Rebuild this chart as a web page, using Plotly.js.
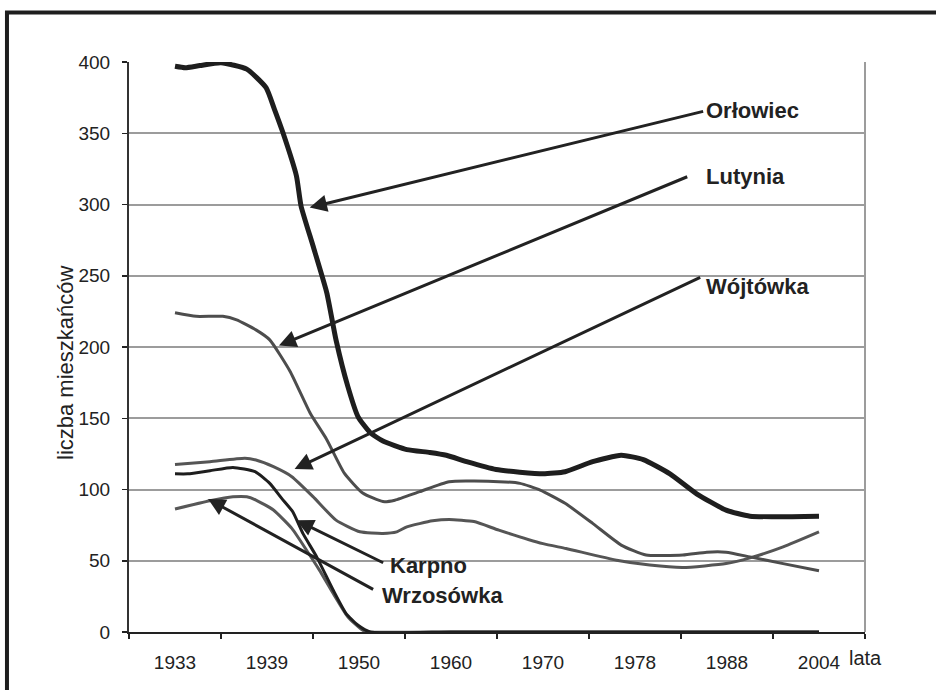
<!DOCTYPE html>
<html><head><meta charset="utf-8">
<script src="https://cdn.plot.ly/plotly-3.0.1.min.js"></script>
<style>html,body{margin:0;padding:0;background:#fff}#chart{width:936px;height:690px}</style>
</head><body><div id="chart"></div>
<script>
// Category (year) labels of the x axis
const yearLabels = ['1933','1939','1950','1960','1970','1978','1988','2004'];

// Positions along the year axis (0 = 1933 ... 7 = 2004) and population values
const orlowiecX = [0,0.11,0.27,0.50,0.78,0.99,1.08,1.17,1.32,1.37,1.50,1.65,1.75,1.88,1.99,2.12,2.26,2.52,2.77,2.95,3.17,3.49,4.00,4.24,4.54,4.85,5.09,5.38,5.67,5.99,6.25,7.00];
const orlowiecY = [397,396,397.5,399.5,395,382,367,351,320,299,271,238,205,172,151,140,134,128,126,124,119.5,114,111,112.5,119.5,124,121,111,97,85.5,81.3,81.3];

const lutyniaX = [0,0.23,0.52,0.67,0.88,1.03,1.25,1.47,1.65,1.84,2.04,2.26,2.39,2.66,2.98,3.52,3.75,3.97,4.24,4.54,4.85,5.12,5.52,5.78,5.99,6.25,6.61,7.00];
const lutyniaY = [224,221.5,221.5,219,212,205,183,153.5,135,111.5,97.5,91.5,92.5,98.5,105.5,105.5,104.3,99.6,90.3,76.2,61,54,54,56,56,52.7,48,43];

const wojtowkaX = [0,0.38,0.76,0.88,1.07,1.27,1.50,1.75,2.01,2.26,2.41,2.52,2.80,2.98,3.25,3.52,4.00,4.25,4.80,5.16,5.52,5.99,6.25,6.61,7.00];
const wojtowkaY = [117.5,119.5,122,120.7,116,109,95,78.5,70.3,69.2,70.3,73.8,78,79,77.5,71.5,62,58.6,50.4,47,45.3,48,52,59.8,70.3];

const karpnoX = [0,0.14,0.38,0.63,0.87,1.03,1.16,1.28,1.39,1.54,1.72,1.86,1.99,2.12,3,4,5,6,7];
const karpnoY = [111,111,113.2,115.5,112.5,104.3,93.8,84.4,69.2,52.7,29.3,12.9,4.7,0,0,0,0,0,0];

const wrzosowkaX = [0,0.38,0.63,0.78,0.88,1.07,1.27,1.43,1.57,1.72,1.88,2.04,2.12,3,4,5,6,7];
const wrzosowkaY = [86.3,92.1,94.9,94.9,92.6,85.6,72.7,57.4,43.4,27,10.5,1.2,0,0,0,0,0,0];

const FONT = 'Liberation Sans, Arial, sans-serif';
const sm = {shape:'spline', smoothing:0.5};

const traces = [
  {name:'Wrzosówka', x:wrzosowkaX, y:wrzosowkaY, mode:'lines', line:Object.assign({color:'#575757', width:3}, sm)},
  {name:'Karpno', x:karpnoX, y:karpnoY, mode:'lines', line:Object.assign({color:'#1e1e1e', width:3}, sm)},
  {name:'Wójtówka', x:wojtowkaX, y:wojtowkaY, mode:'lines', line:Object.assign({color:'#555555', width:3}, sm)},
  {name:'Lutynia', x:lutyniaX, y:lutyniaY, mode:'lines', line:Object.assign({color:'#4d4d4d', width:3}, sm)},
  {name:'Orłowiec', x:orlowiecX, y:orlowiecY, mode:'lines', line:Object.assign({color:'#1e1e1e', width:5}, sm)}
];

// Arrow callouts: label text, label anchor, arrow tail, arrow head (axis units)
const callouts = [
  {text:'Orłowiec',  lx:5.745,ly:366,  tx:5.757, ty:365.6, hx:1.464, hy:297.9},
  {text:'Lutynia',   lx:5.75, ly:320,  tx:5.584, ty:319.9, hx:1.13,  hy:201},
  {text:'Wójtówka',  lx:5.745,ly:242.5,tx:5.725, ty:249.4, hx:1.30,  hy:114.4},
  {text:'Karpno',    lx:2.32, ly:46.9, tx:2.279, ty:48.1,  hx:1.32,  hy:78.5},
  {text:'Wrzosówka', lx:2.225,ly:25.8, tx:2.17,  ty:29.3,  hx:0.359, hy:93.3}
];

const annotations = [];
callouts.forEach(c => {
  annotations.push({x:c.hx, y:c.hy, ax:c.tx, ay:c.ty, axref:'x', ayref:'y', xref:'x', yref:'y',
    text:'', showarrow:true, arrowhead:2, arrowsize:1.15, arrowwidth:3, arrowcolor:'#222', standoff:0, startstandoff:0});
  annotations.push({x:c.lx, y:c.ly, xref:'x', yref:'y', text:'<b>'+c.text+'</b>', showarrow:false,
    xanchor:'left', yanchor:'middle', font:{family:FONT, size:22, color:'#222'}});
});
annotations.push({x:0.9755, y:-0.046, xref:'paper', yref:'paper', text:'lata', showarrow:false,
  xanchor:'left', yanchor:'middle', font:{family:FONT, size:20, color:'#222'}});
annotations.push({x:-0.0856, y:0.4737, xref:'paper', yref:'paper', text:'liczba mieszkańców', showarrow:false,
  textangle:-90, xanchor:'center', yanchor:'middle', font:{family:FONT, size:22, color:'#222'}});

const layout = {
  width:936, height:690,
  margin:{l:129, r:71, t:62, b:58},
  paper_bgcolor:'#fff', plot_bgcolor:'#fff',
  showlegend:false,
  font:{family:FONT, size:19, color:'#222'},
  xaxis:{
    range:[-0.5,7.5], tickmode:'array', tickvals:yearLabels.map((_,i)=>i), ticktext:yearLabels,
    ticks:'', showgrid:false, zeroline:false, showline:true, linecolor:'#222', linewidth:2,
    ticklabelstandoff:12, tickfont:{family:FONT, size:19, color:'#222'},
    minor:{tickmode:'linear', tick0:-0.5, dtick:1, ticks:'outside', ticklen:5, tickwidth:1.5, tickcolor:'#222', showgrid:false}
  },
  yaxis:{
    range:[0,400], tickmode:'linear', tick0:0, dtick:50, ticks:'outside', ticklen:5, tickwidth:1.5, tickcolor:'#222',
    showgrid:true, gridcolor:'#9c9c9c', gridwidth:2, zeroline:false, showline:true, linecolor:'#333', linewidth:2,
    ticklabelstandoff:8, tickfont:{family:FONT, size:19, color:'#222'}
  },
  shapes:[
    {type:'line', xref:'paper', yref:'paper', x0:1, x1:1, y0:0, y1:1, line:{color:'#9c9c9c', width:2}},
    {type:'rect', xref:'paper', yref:'paper', x0:-0.1658, x1:1.2, y0:-0.14, y1:1.0868, line:{color:'#1e1e1e', width:4}}
  ],
  annotations:annotations
};

Plotly.newPlot('chart', traces, layout, {displayModeBar:false, staticPlot:true});
</script>
</body></html>
